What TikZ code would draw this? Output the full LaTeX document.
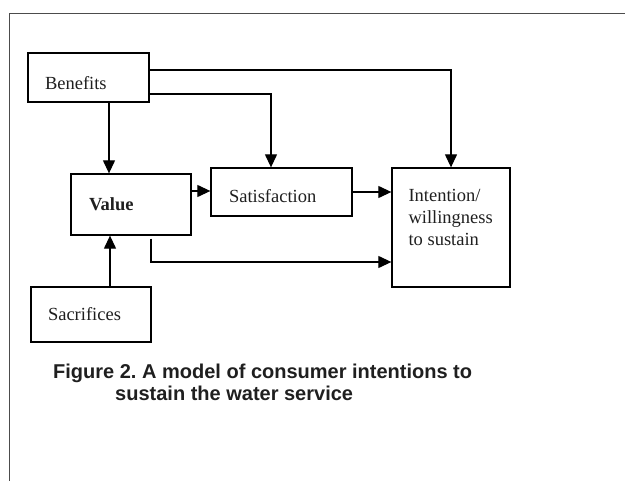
\documentclass[tikz,border=0pt]{standalone}
\usepackage{fontspec}
\setmainfont{Liberation Serif}
\newfontfamily\capfont{Liberation Sans}
\usetikzlibrary{arrows.meta,positioning}
\frenchspacing
\begin{document}
\begin{tikzpicture}[x=1bp,y=-1bp,
  box/.style={draw,line width=1.3bp,inner xsep=17bp,inner ysep=0pt,align=left,
    text=black!88,font=\fontsize{18.5bp}{22bp}\selectfont},
  arr/.style={line width=1.2bp,-{Triangle[length=13bp,width=12bp]}}]
\useasboundingbox (0,0) rectangle (625,481);
\draw [black!70,line width=0.9bp] (9,481) -- (9,13) -- (625,13);
\node [box,text width=87bp,minimum height=49bp,text height=25bp] (ben) at (88.5,77.5) {Benefits};
\node [box,inner xsep=18bp,text width=84bp,minimum height=61bp] (val) at (131,204.5) {\textbf{Value}};
\node [box,inner xsep=18bp,text width=105bp,minimum height=48bp,text height=22bp] (sat) at (281.5,192) {Satisfaction};
\node [box,minimum width=118bp,minimum height=119bp] (int) at (451,227.5) {};
\node [align=left,inner sep=0pt,anchor=north west,text=black!88,
  font=\fontsize{18.5bp}{22bp}\selectfont] (inttext) at ([xshift=17bp,yshift=-22bp]int.north west)
  {Intention/\\willingness\\to sustain};
\node [box,text width=86bp,minimum height=55bp] (sac) at (91,314.5) {Sacrifices};
\draw [arr] ([yshift=7.5bp]ben.east) -| (int.north);
\draw [arr] ([yshift=-16.5bp]ben.east) -| ([xshift=-10.5bp]sat.north);
\draw [arr] ([xshift=20.5bp]ben.south) -- ([xshift=20.5bp]ben.south |- val.north);
\draw [arr] ([xshift=19bp]sac.north) -- ([xshift=19bp]sac.north |- val.south);
\draw [arr] ([yshift=13.5bp]val.east) -- ([yshift=13.5bp]val.east -| sat.west);
\draw [arr] (sat.east) -- (sat.east -| int.west);
\draw [arr] ([xshift=20bp,yshift=-3bp]val.south) |- ([yshift=-34.5bp]int.west);
\node [align=left,inner sep=0pt,anchor=north west,text=black!88,
  font=\capfont\bfseries\fontsize{20bp}{22bp}\selectfont] (cap) at (53,364)
  {Figure 2. A model of consumer intentions to\\\hspace*{62bp}sustain the water service};
\end{tikzpicture}
\end{document}
